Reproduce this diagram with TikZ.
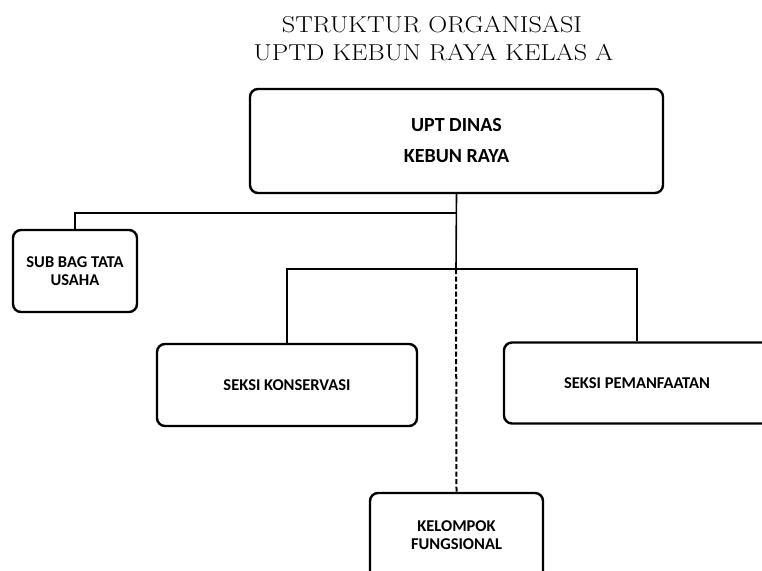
\documentclass[tikz,border=0pt]{standalone}
\usepackage{fontspec}
\setsansfont{Carlito}
\begin{document}
\begin{tikzpicture}[x=1pt,y=-1pt,
  unitbox/.style={draw=black, line width=2.4pt, rounded corners=8pt, fill=white,
    font=\sffamily\bfseries, align=center, inner sep=0pt},
  smalltext/.style={font=\fontsize{16.5}{18}\selectfont\sffamily\bfseries},
  link/.style={line width=2pt, draw=black},
  trunk/.style={line width=1.6pt, draw=black},
  dashlink/.style={line width=2pt, draw=black, dash pattern=on 5pt off 2.5pt},
  titletext/.style={font=\fontsize{23}{28}\selectfont, align=center, inner sep=0pt}]
\useasboundingbox (0,0) rectangle (762,570);
\begin{scope}
\clip (0,0) rectangle (762,570);

% title
\node[titletext] (t1) at (432,25) {\scalebox{1.14}[1]{STRUKTUR ORGANISASI}};
\node[titletext] (t2) at (433.5,52.5) {\scalebox{1.14}[1]{UPTD KEBUN RAYA KELAS A}};

% boxes
\node[unitbox, minimum width=413pt, minimum height=104pt,
  font=\fontsize{20}{31}\selectfont\sffamily\bfseries] (upt) at (456.5,141)
  {\raisebox{-3pt}{\begin{tabular}{@{}c@{}}UPT DINAS\\KEBUN RAYA\end{tabular}}};
\node[unitbox, smalltext, minimum width=124pt, minimum height=82pt] (sub) at (75,271)
  {SUB BAG TATA\\USAHA};
\node[unitbox, smalltext, minimum width=260pt, minimum height=82pt] (kon) at (287,385)
  {SEKSI KONSERVASI};
\node[unitbox, smalltext, minimum width=266pt, minimum height=81pt] (pem) at (637,383)
  {SEKSI PEMANFAATAN};
\node[unitbox, smalltext, minimum width=173pt, minimum height=110pt] (kel) at (456.5,548)
  {KELOMPOK\\FUNGSIONAL\\[8pt]};

% connectors
\coordinate (jsub) at (456,213);
\coordinate (jsek) at (456,269);
\draw[trunk] (upt.south) -- (jsek);
\draw[link] (jsub) -| (sub.north);
\draw[link] (kon.north) |- (jsek);
\draw[link] (jsek) -| (pem.north);
\draw[dashlink] (jsek) -- (kel.north);
\end{scope}
\end{tikzpicture}
\end{document}
